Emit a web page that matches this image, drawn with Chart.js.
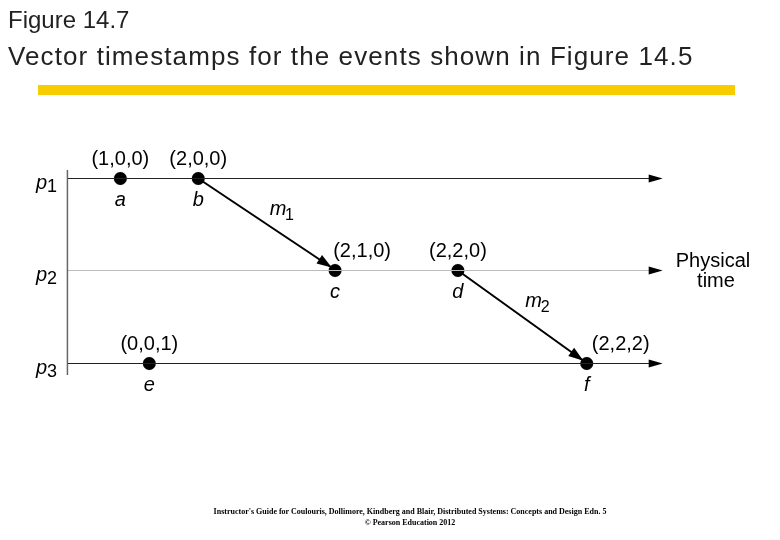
<!DOCTYPE html><html><head><meta charset="utf-8">
<script src="https://cdn.jsdelivr.net/npm/chart.js@4/dist/chart.umd.min.js"></script>
<style>html,body{margin:0;padding:0;background:#fff}#w{position:relative;width:780px;height:540px}</style></head><body>
<div id="w"><canvas id="c" width="780" height="540"></canvas></div>
<script>
// processes and their timeline position (vertical), events with time (horizontal)
const processes = ["p1","p2","p3"];
const processY = [178, 270, 363];
const events = ["a","b","c","d","e","f"];
const eventProc = [0,0,1,1,2,2];
const eventTime = [120,198,335,458,149,587];
const eventStamp = ["(1,0,0)","(2,0,0)","(2,1,0)","(2,2,0)","(0,0,1)","(2,2,2)"];
const messages = ["m1","m2"];
const msgFrom = [1,3];
const msgTo = [2,5];
const timeStart = 67, timeEnd = 663;

const datasets = [];
processes.forEach((p,i)=>datasets.push({type:'line',data:[{x:timeStart,y:processY[i]},{x:timeEnd-10,y:processY[i]}],borderColor:i===1?'#bbb':'#222',borderWidth:1,pointRadius:0,arrow:true}));
messages.forEach((m,i)=>{const a=msgFrom[i],b=msgTo[i];datasets.push({type:'line',data:[{x:eventTime[a],y:processY[eventProc[a]]},{x:eventTime[b]-5,y:processY[eventProc[b]]-4}],borderColor:'#000',borderWidth:2,pointRadius:0,arrow:true});});
datasets.push({type:'scatter',data:events.map((e,i)=>({x:eventTime[i],y:processY[eventProc[i]]})),backgroundColor:'#000',pointRadius:6.5,pointHoverRadius:6.5});

const deco={id:'deco',afterDatasetsDraw(ch){
 const c=ch.ctx,xs=ch.scales.x,ys=ch.scales.y;
 c.save();
 ch.data.datasets.forEach(ds=>{if(!ds.arrow)return;const p0=ds.data[0],p1=ds.data[1];
  const x0=xs.getPixelForValue(p0.x),y0=ys.getPixelForValue(p0.y),x1=xs.getPixelForValue(p1.x),y1=ys.getPixelForValue(p1.y);
  const ang=Math.atan2(y1-y0,x1-x0),L=ds.borderWidth>1?15:14,W=ds.borderWidth>1?5:4;
  const tx=x1+Math.cos(ang)*(ds.borderWidth>1?2:10),ty=y1+Math.sin(ang)*(ds.borderWidth>1?2:10);
  c.fillStyle='#000';c.beginPath();c.moveTo(tx,ty);
  c.lineTo(tx-L*Math.cos(ang)+W*Math.sin(ang),ty-L*Math.sin(ang)-W*Math.cos(ang));
  c.lineTo(tx-L*Math.cos(ang)-W*Math.sin(ang),ty-L*Math.sin(ang)+W*Math.cos(ang));c.closePath();c.fill();});
 c.strokeStyle='#666';c.lineWidth=1.5;c.beginPath();c.moveTo(xs.getPixelForValue(timeStart),170);c.lineTo(xs.getPixelForValue(timeStart),375);c.stroke();
 c.fillStyle='#000';c.textAlign='center';c.textBaseline='alphabetic';
 events.forEach((e,i)=>{const x=xs.getPixelForValue(eventTime[i]),y=ys.getPixelForValue(processY[eventProc[i]]);
  c.font='20px "Liberation Sans", Arial';let sx=x; if(i===2)sx=x+27;if(i===5)sx=x+34;
  c.fillText(eventStamp[i],sx,y-14);
  c.font='italic 20px "Liberation Sans", Arial';c.fillText(e,x,y+27);});
 messages.forEach((m,i)=>{const a=msgFrom[i],b=msgTo[i];const mx=(eventTime[a]+eventTime[b])/2,my=(processY[eventProc[a]]+processY[eventProc[b]])/2;
  const x=xs.getPixelForValue(mx)+3,y=ys.getPixelForValue(my)-10;c.font='italic 20px "Liberation Sans", Arial';c.textAlign='left';c.fillText(m[0],x,y);c.font='16px "Liberation Sans", Arial';c.fillText(m[1],x+c.measureText(m[0]).width+2,y+5);});
 processes.forEach((p,i)=>{const y=ys.getPixelForValue(processY[i]);c.textAlign='left';c.font='italic 20px "Liberation Sans", Arial';c.fillText(p[0],36,y+10);c.font='18px "Liberation Sans", Arial';c.fillText(p[1],47,y+13);});
 c.textAlign='center';c.font='20px "Liberation Sans", Arial';c.fillText('Physical',713,267);c.fillText('time',716,287);
 c.restore();}};

new Chart(document.getElementById('c'),{data:{datasets},plugins:[deco],options:{responsive:false,animation:false,events:[],
 layout:{padding:0},plugins:{legend:{display:false},tooltip:{enabled:false},title:{display:false}},
 scales:{x:{type:'linear',min:7,max:773,display:false},y:{type:'linear',min:7,max:532,reverse:true,display:false}}}});
</script>
<div style="position:absolute;left:8px;top:2px;font:24px 'Liberation Sans',Arial;color:#222;line-height:36px">Figure 14.7<br><span style="font-size:26px;letter-spacing:1.1px">Vector timestamps for the events shown in Figure 14.5</span></div>
<div style="position:absolute;left:38px;top:85px;width:697px;height:10px;background:#f7cc00"></div>
<div style="position:absolute;left:0;width:820px;top:506px;text-align:center;font:bold 8px 'Liberation Serif',serif;line-height:11px;color:#000">Instructor's Guide for Coulouris, Dollimore, Kindberg and Blair, Distributed Systems: Concepts and Design Edn. 5<br>© Pearson Education 2012</div>
</div>
</body></html>
